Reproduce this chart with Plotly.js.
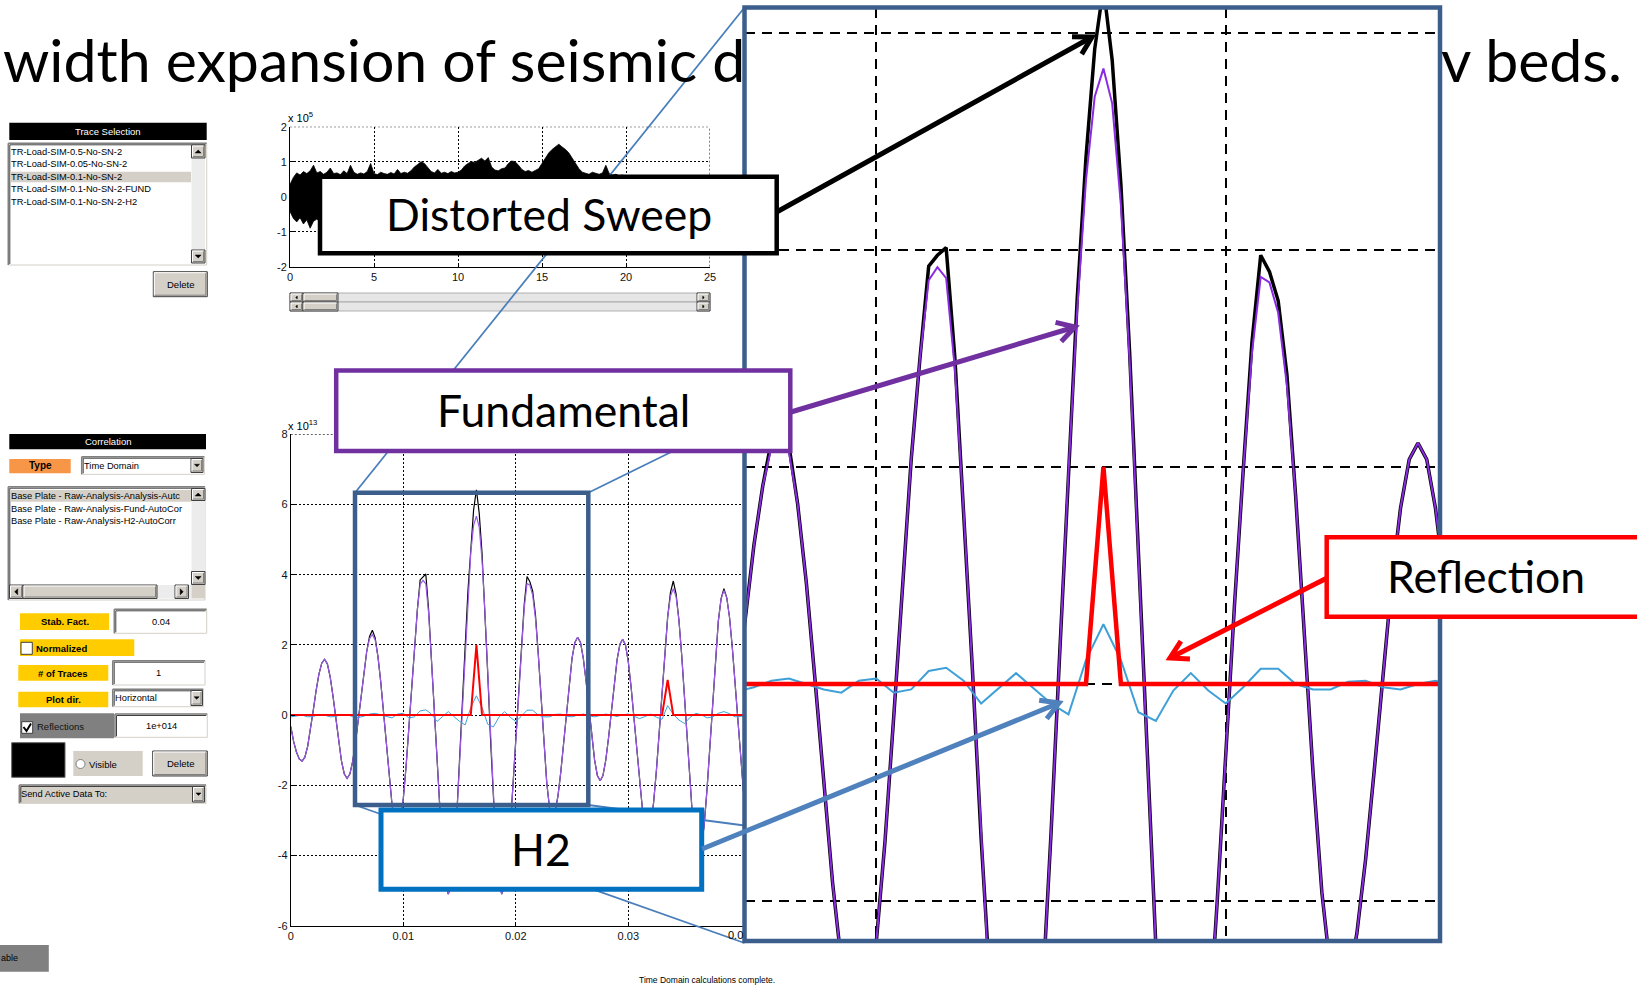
<!DOCTYPE html>
<html><head><meta charset="utf-8">
<script src="https://cdn.plot.ly/plotly-3.0.1.min.js"></script>
<style>html,body{margin:0;padding:0;background:#fff;overflow:hidden}#chart{width:1637px;height:986px}</style>
</head><body><div id="chart"></div>
<script>
// ---------------- DATA ----------------
// Sweep record (x 10^5), envelope of the distorted sweep, sampled every 0.2 s
const SWEEP_STEP = 0.2;
const sweepHi = [
0.35,0.55,0.68,0.62,0.72,0.66,0.74,0.90,0.68,0.72,
0.64,0.70,0.82,0.66,0.68,0.63,0.74,0.66,0.90,0.70,
0.64,0.68,0.65,0.72,0.95,0.66,0.63,0.70,0.66,0.64,
0.69,0.65,0.78,0.66,0.70,0.67,0.74,0.85,0.92,1.00,
0.95,0.84,0.72,0.68,0.78,0.67,0.70,0.66,0.72,0.68,
0.70,0.76,0.88,0.95,1.00,0.98,1.05,1.10,1.02,1.12,
0.85,0.76,0.74,0.80,0.82,0.95,1.02,1.00,0.90,0.78,
0.72,0.75,0.70,0.74,0.80,0.95,1.10,1.25,1.35,1.42,
1.50,1.42,1.35,1.25,1.10,0.95,0.80,0.70,0.68,0.64,
0.70,0.66,0.64,0.68,0.90,0.66,0.62,0.64,0.60,0.62,
0.58,0.60,0.56,0.55,0.52,0.50];
const sweepLo = [
-0.42,-0.62,-0.72,-0.60,-0.78,-0.66,-0.90,-0.70,-0.64,-0.72,
-0.62,-0.68,-0.75,-0.63,-0.66,-0.62,-0.72,-0.65,-0.82,-0.68,
-0.62,-0.66,-0.63,-0.70,-0.85,-0.64,-0.62,-0.68,-0.65,-0.63,
-0.67,-0.64,-0.74,-0.65,-0.68,-0.66,-0.72,-0.82,-0.90,-0.96,
-0.92,-0.80,-0.70,-0.66,-0.74,-0.66,-0.68,-0.65,-0.70,-0.66,
-0.68,-0.74,-0.85,-0.92,-0.98,-0.95,-1.02,-1.06,-0.99,-1.08,
-0.82,-0.74,-0.72,-0.77,-0.80,-0.92,-0.98,-0.96,-0.88,-0.76,
-0.70,-0.73,-0.68,-0.72,-0.78,-0.92,-1.06,-1.20,-1.30,-1.38,
-1.45,-1.38,-1.30,-1.20,-1.06,-0.92,-0.78,-0.68,-0.66,-0.62,
-0.68,-0.64,-0.62,-0.66,-0.84,-0.64,-0.60,-0.62,-0.58,-0.60,
-0.56,-0.58,-0.54,-0.53,-0.50,-0.48];

// Autocorrelations (x 10^13), lag sampled every 0.25 ms
const CORR_STEP = 0.00025;
const fundamental = [
-0.33,-0.75,-1.05,-1.25,-1.31,-1.20,-0.89,-0.42,0.14,0.70,
1.17,1.48,1.59,1.46,1.09,0.54,-0.11,-0.75,-1.30,-1.67,
-1.80,-1.68,-1.32,-0.78,-0.11,0.61,1.28,1.82,2.18,2.30,
2.14,1.66,0.93,0.03,-0.93,-1.83,-2.56,-3.04,-3.20,-2.99,
-2.38,-1.45,-0.30,0.92,2.07,3.00,3.72,3.84,3.74,2.90,
1.59,0.14,-1.42,-2.87,-4.06,-4.83,-5.10,-4.84,-4.07,-2.88,
-1.38,0.29,1.95,3.45,4.64,5.41,5.67,5.35,4.41,2.98,
1.22,-0.65,-2.41,-3.84,-4.78,-5.10,-4.88,-4.25,-3.27,-2.03,
-0.65,0.73,1.97,3.05,3.75,3.70,3.42,2.75,1.73,0.45,
-0.83,-1.92,-2.65,-2.90,-2.75,-2.30,-1.62,-0.79,0.11,0.94,
1.62,2.07,2.22,2.07,1.62,0.96,0.18,-0.61,-1.27,-1.72,
-1.87,-1.72,-1.28,-0.63,0.15,0.92,1.57,2.01,2.16,2.00,
1.52,0.80,-0.10,-1.05,-1.94,-2.66,-3.14,-3.30,-3.09,-2.49,
-1.58,-0.45,0.75,1.88,2.79,3.39,3.60,3.37,2.71,1.70,
0.46,-0.86,-2.10,-3.11,-3.77,-4.00,-3.77,-3.12,-2.11,-0.88,
0.43,1.66,2.67,3.32,3.55,3.35,2.78,1.91,0.85,-0.30,
-1.36,-2.23,-2.80,-3.00];
const distorted = [
-0.33,-0.75,-1.05,-1.25,-1.31,-1.20,-0.89,-0.42,0.14,0.70,
1.17,1.48,1.59,1.46,1.09,0.54,-0.11,-0.75,-1.30,-1.67,
-1.80,-1.68,-1.32,-0.78,-0.11,0.61,1.28,1.82,2.24,2.42,
2.20,1.66,0.93,0.03,-0.93,-1.83,-2.56,-3.04,-3.20,-2.99,
-2.38,-1.45,-0.30,0.92,2.07,3.00,3.85,3.95,4.02,3.00,
1.59,0.14,-1.42,-2.87,-4.06,-4.83,-5.10,-4.84,-4.07,-2.88,
-1.38,0.29,1.95,3.55,4.85,5.85,6.42,5.75,4.60,3.05,
1.22,-0.65,-2.41,-3.84,-4.78,-5.10,-4.88,-4.25,-3.27,-2.03,
-0.65,0.73,1.97,3.15,3.95,3.80,3.53,2.85,1.73,0.45,
-0.83,-1.92,-2.65,-2.90,-2.75,-2.30,-1.62,-0.79,0.11,0.94,
1.62,2.07,2.22,2.07,1.62,0.96,0.18,-0.61,-1.27,-1.72,
-1.87,-1.72,-1.28,-0.63,0.15,0.92,1.57,2.01,2.16,2.00,
1.52,0.80,-0.10,-1.05,-1.94,-2.66,-3.14,-3.30,-3.09,-2.49,
-1.58,-0.45,0.75,1.88,2.79,3.50,3.82,3.45,2.71,1.70,
0.46,-0.86,-2.10,-3.11,-3.77,-4.00,-3.77,-3.12,-2.11,-0.88,
0.43,1.66,2.67,3.32,3.60,3.35,2.78,1.91,0.85,-0.30,
-1.36,-2.23,-2.80,-3.00];
// H2 autocorrelation, every 0.5 ms
const H2_STEP = 0.0005;
const h2 = [
-0.05,-0.03,0.00,-0.05,-0.04,0.02,0.00,-0.05,-0.04,0.02,
0.01,-0.04,-0.07,-0.03,0.03,0.05,0.00,-0.05,-0.08,0.03,
0.05,-0.08,-0.05,0.12,0.15,0.03,-0.18,-0.04,0.10,-0.04,
-0.18,-0.28,0.22,0.55,0.22,-0.26,-0.34,-0.06,0.10,-0.06,
-0.18,-0.03,0.14,0.14,0.00,-0.05,-0.05,0.02,0.03,-0.03,
-0.05,0.00,0.03,-0.02,-0.05,-0.01,0.03,0.00,-0.04,0.01,
0.03,-0.03,-0.10,-0.04,0.03,-0.06,-0.12,0.27,0.02,-0.14,
-0.24,-0.06,0.05,0.01,-0.08,-0.05,0.05,0.10,0.04,-0.05,
-0.04,-0.02];
// Reflection series
const reflT = [0, 0.016, 0.0165, 0.017, 0.033, 0.0335, 0.034, 0.041];
const reflV = [0, 0, 2.0, 0, 0, 1.0, 0, 0];

// Tick labels
const sweepXTicks = [0,5,10,15,20,25];
const sweepXLabels = ['0','5','10','15','20','25'];
const sweepYTicks = [-2,-1,0,1,2];
const sweepYLabels = ['-2','-1','0','1','2'];
const corrXTicks = [0,0.01,0.02,0.03];
const corrXLabels = ['0','0.01','0.02','0.03'];
const corrYTicks = [-6,-4,-2,0,2,4,6,8];
const corrYLabels = ['-6','-4','-2','0','2','4','6','8'];
const zoomXGrid = [0.01,0.02];
const zoomYGrid = [-2,0,2,4,6];

// GUI texts
const traceItems = ['TR-Load-SIM-0.5-No-SN-2','TR-Load-SIM-0.05-No-SN-2','TR-Load-SIM-0.1-No-SN-2','TR-Load-SIM-0.1-No-SN-2-FUND','TR-Load-SIM-0.1-No-SN-2-H2'];
const corrItems = ['Base Plate - Raw-Analysis-Analysis-Autc','Base Plate - Raw-Analysis-Fund-AutoCor','Base Plate - Raw-Analysis-H2-AutoCorr'];

// ---------------- LAYOUT HELPERS ----------------
const W = 1637, H = 986;
const X = v => v / W;
const Y = v => 1 - v / H;
const NONE = 'rgba(0,0,0,0)';
const GUI_FONT = 'Liberation Sans, Arial, sans-serif';
const SLIDE_FONT = 'Lato, Open Sans, sans-serif';
const shapes = [], annos = [];
function rect(x0,y0,x1,y1,fill,color,width){
  shapes.push({type:'rect',xref:'paper',yref:'paper',layer:'above',x0:X(x0),x1:X(x1),y0:Y(y1),y1:Y(y0),
    fillcolor:fill||NONE,line:{color:color||NONE,width:width||0}});
}
function seg(x0,y0,x1,y1,color,width,dash){
  shapes.push({type:'line',xref:'paper',yref:'paper',layer:'above',x0:X(x0),y0:Y(y0),x1:X(x1),y1:Y(y1),
    line:{color:color,width:width,dash:dash||'solid'}});
}
function poly(pts,color,width,fill){
  let d = pts.map((p,i)=>(i?'L':'M')+X(p[0]).toFixed(6)+','+Y(p[1]).toFixed(6)).join(' ');
  if(fill) d += ' Z';
  shapes.push({type:'path',xref:'paper',yref:'paper',layer:'above',path:d,fillcolor:fill||NONE,line:{color:color||NONE,width:width||0}});
}
function circ(cx,cy,r,fill,color,width){
  shapes.push({type:'circle',xref:'paper',yref:'paper',layer:'above',x0:X(cx-r),x1:X(cx+r),y0:Y(cy+r),y1:Y(cy-r),fillcolor:fill,line:{color:color,width:width}});
}
function label(x,y,s,size,o){
  o = o||{};
  annos.push({xref:'paper',yref:'paper',x:X(x),y:Y(y),text:s,showarrow:false,xanchor:o.anchor||'left',yanchor:'middle',
    borderpad:0,borderwidth:0,font:{family:o.family||GUI_FONT,size:size,color:o.color||'#000'}});
}
function raised(x0,y0,x1,y1,fill){
  rect(x0,y0,x1,y1,fill||'#D4D0C8','#404040',1);
  seg(x0+1,y0+1,x1-1.5,y0+1,'#FFFFFF',1);
  seg(x0+1,y0+1,x0+1,y1-1.5,'#FFFFFF',1);
  seg(x0+1.5,y1-1.5,x1-1.5,y1-1.5,'#808080',1);
  seg(x1-1.5,y0+1.5,x1-1.5,y1-1.5,'#808080',1);
}
function sunken(x0,y0,x1,y1,fill){
  rect(x0,y0,x1,y1,fill||'#FFFFFF','#D4D0C8',1);
  seg(x0,y0,x1,y0,'#808080',1.5);
  seg(x0,y0,x0,y1,'#808080',1.5);
  seg(x0+1.5,y0+1.5,x1-1,y0+1.5,'#404040',1);
  seg(x0+1.5,y0+1.5,x0+1.5,y1-1,'#404040',1);
}
function tri(cx,cy,dir,s){
  let p;
  if(dir==='up') p=[[cx-s,cy+s/2],[cx+s,cy+s/2],[cx,cy-s/2]];
  else if(dir==='down') p=[[cx-s,cy-s/2],[cx+s,cy-s/2],[cx,cy+s/2]];
  else if(dir==='left') p=[[cx+s/2,cy-s],[cx+s/2,cy+s],[cx-s/2,cy]];
  else p=[[cx-s/2,cy-s],[cx-s/2,cy+s],[cx+s/2,cy]];
  poly(p,'#000',0.5,'#000');
}
function arrow(x0,y0,x1,y1,color,w){
  seg(x0,y0,x1,y1,color,w);
  const dx=x1-x0, dy=y1-y0, len=Math.hypot(dx,dy), ux=dx/len, uy=dy/len;
  const L=20, a=Math.PI/6, c=Math.cos(a), s=Math.sin(a);
  const p1=[x1-L*(ux*c-uy*s), y1-L*(uy*c+ux*s)];
  const p2=[x1-L*(ux*c+uy*s), y1-L*(uy*c-ux*s)];
  poly([p1,[x1,y1],p2],color,w);
}

// ---------------- GUI (left) ----------------
rect(9.3,122.7,206.7,140,'#000');
label(108,131.4,'Trace Selection',9.5,{anchor:'center',color:'#fff'});
sunken(8.3,143.3,206.7,265);
rect(10,171.7,191,182.3,'#D4D0C8');
[151.7,163.8,176.8,189.3,201.7].forEach((yy,i)=>label(11,yy,traceItems[i],9.3));
rect(191.5,145,205,263,'#ECECEC');
raised(191.5,145,205,158); tri(198.2,151.5,'up',3);
raised(191.5,250,205,263); tri(198.2,256.5,'down',3);
raised(153.3,271.7,207.3,296.7); label(180.3,284.2,'Delete',9.5,{anchor:'center'});

rect(9.3,434,206,449.3,'#000');
label(107.7,441.7,'Correlation',9.5,{anchor:'center',color:'#fff'});
rect(9.3,459,70.7,473.3,'#F79646'); label(40,466,'<b>Type</b>',10,{anchor:'center'});
sunken(81.7,456.7,204.3,474.3); raised(191,458.5,203,472.5); tri(197,465.5,'down',2.5);
label(83.5,465.8,'Time Domain',9.3);
sunken(8.3,486.7,205,600);
rect(10,490,191,501.7,'#D4D0C8');
[496,508.7,521].forEach((yy,i)=>label(10.5,yy,corrItems[i],9.3));
rect(191.5,488.5,205,584.5,'#ECECEC');
raised(191.5,488.5,205,500.5); tri(198.2,494.5,'up',3);
raised(191.5,571.5,205,584.5); tri(198.2,578,'down',3);
rect(9.5,585,191.5,598.5,'#ECECEC');
raised(9.5,585,23,598.5); tri(16.2,591.8,'left',3);
raised(23,585,157,598.5);
raised(175,585,188.5,598.5); tri(181.7,591.8,'right',3);
rect(191.5,585,205,598.5,'#D4D0C8');

rect(20,613.3,109,630,'#FFCC00'); label(64.5,621.7,'<b>Stab. Fact.</b>',9.5,{anchor:'center'});
sunken(114.3,609.3,206.7,633.3); label(160.5,621.5,'0.04',9.3,{anchor:'center'});
rect(20,639.3,134.3,656,'#FFCC00'); rect(21,642.3,32.3,654.3,'#FFFFFF','#404040',1);
label(36,648,'<b>Normalized</b>',9.5);
rect(18.3,665,108.3,680.7,'#FFCC00'); label(63.3,673,'<b># of Traces</b>',9.5,{anchor:'center'});
sunken(112.7,660.7,205,685); label(158.8,673,'1',9.3,{anchor:'center'});
rect(18.3,691.7,108.3,707.3,'#FFCC00'); label(63.3,699.5,'<b>Plot dir.</b>',9.5,{anchor:'center'});
sunken(112.7,689.3,203.3,706.7); raised(191,690.5,202.5,705.5); tri(196.7,698,'down',2.5);
label(114.5,698,'Horizontal',9.3);
rect(20,713.3,114,738.3,'#808080'); rect(21.7,721.7,32.7,733.3,'#FFFFFF','#404040',1);
poly([[23.5,727],[26.5,731],[31,723.5]],'#000',2);
label(36.5,726,'Reflections',9.5,{color:'#111'});
sunken(115,714,207.3,737.3); label(161,725.7,'1e+014',9.3,{anchor:'center'});
rect(11.7,742.7,65,777.3,'#000','#606060',1);
rect(73.3,751,142.7,776,'#D4D0C8'); circ(80.5,764,4.5,'#FFFFFF','#808080',1);
label(89,764,'Visible',9.5);
raised(152.7,751,207.3,776); label(180,763.5,'Delete',9.5,{anchor:'center'});
sunken(19.3,785,206,803.3,'#D4D0C8'); raised(192.5,786.5,204.5,802); tri(198.5,794.2,'down',2.5);
label(21,794,'Send Active Data To:',9.3);
rect(0,945,48.8,971.7,'#808080'); label(1,958,'able',9);
label(707,980,'Time Domain calculations complete.',8.5,{anchor:'center'});

// slider under sweep plot
[[293,302],[302,311]].forEach(r=>{
  rect(290,r[0],710,r[1],'#E6E6E6','#A0A0A0',0.8);
  raised(290,r[0],303,r[1]); raised(303,r[0],338,r[1]); raised(697,r[0],710,r[1]);
  tri(296.5,(r[0]+r[1])/2,'left',1.5); tri(703.5,(r[0]+r[1])/2,'right',1.5);
});

// ---------------- callout graphics ----------------
const LINK = '#4A7EBB', FRAME = '#3B5E8C';
seg(355,492.7,744.5,7.5,LINK,1.8);
seg(588.3,492.7,744.5,416,LINK,1.8);
seg(355,805,744.5,943,LINK,1.8);
seg(588.3,805,744.5,825.5,LINK,1.8);
rect(355,492.7,588.3,805,NONE,FRAME,4.5);
rect(744.5,7.5,1440,941,NONE,FRAME,4.5);
// dotted edges of the matlab axes
shapes.push({type:'line',xref:'x',yref:'y',x0:0,x1:25,y0:2,y1:2,line:{color:'#000',width:1,dash:'2px,2px'}});
shapes.push({type:'line',xref:'x',yref:'y',x0:25,x1:25,y0:-2,y1:2,line:{color:'#000',width:1,dash:'2px,2px'}});
shapes.push({type:'line',xref:'x2',yref:'y2',x0:0,x1:0.0403,y0:8,y1:8,line:{color:'#000',width:1,dash:'2px,2px'}});

// boxes
rect(320,176.7,776.7,253.3,'#FFFFFF','#000000',4.5);
rect(336.2,370.6,790.3,451,'#FFFFFF','#7030A0',4.5);
rect(381,810,701.7,889.3,'#FFFFFF','#0070C0',5);
rect(1326.7,537.3,1660,616.7,'#FFFFFF','#FF0000',4.5);
// arrows
arrow(776.7,212,1092,37,'#000000',5);
arrow(791,412,1075,327,'#7030A0',5);
arrow(1327,578,1170,658,'#FF0000',5);
arrow(702,849,1059,703,'#4F81BD',5);

// texts
label(3,59,'width expansion of seismic d',59,{family:SLIDE_FONT});
label(1441,59,'v beds.',59,{family:SLIDE_FONT});
label(548.5,213,'Distorted Sweep',44.5,{family:SLIDE_FONT,anchor:'center'});
label(563.3,409.5,'Fundamental',44.5,{family:SLIDE_FONT,anchor:'center'});
label(541.3,848,'H2',44.5,{family:SLIDE_FONT,anchor:'center'});
label(1486,575.5,'Reflection',44.5,{family:SLIDE_FONT,anchor:'center'});
label(288,117,'x 10<sup>5</sup>',11);
label(288,425,'x 10<sup>13</sup>',11);
label(743,934.5,'0.0',11,{anchor:'right'});

// ---------------- TRACES ----------------
const sweepT = sweepHi.map((_,i)=>+(i*SWEEP_STEP).toFixed(3));
const corrT = fundamental.map((_,i)=>+(i*CORR_STEP).toFixed(6));
const h2T = h2.map((_,i)=>+(i*H2_STEP).toFixed(6));
const PURPLE = '#8A2BE2', CYAN = '#3FA0D8';
const traces = [
  {x:sweepT,y:sweepLo,xaxis:'x',yaxis:'y',mode:'lines',line:{color:'#000',width:0.8}},
  {x:sweepT,y:sweepHi,xaxis:'x',yaxis:'y',mode:'lines',fill:'tonexty',fillcolor:'#000',line:{color:'#000',width:0.8}},
  {x:corrT,y:distorted,xaxis:'x2',yaxis:'y2',mode:'lines',line:{color:'#000',width:1.2}},
  {x:corrT,y:fundamental,xaxis:'x2',yaxis:'y2',mode:'lines',line:{color:'#9A5CE6',width:1.2}},
  {x:h2T,y:h2,xaxis:'x2',yaxis:'y2',mode:'lines',line:{color:CYAN,width:1}},
  {x:reflT,y:reflV,xaxis:'x2',yaxis:'y2',mode:'lines',line:{color:'#FF0000',width:2}},
  {x:corrT,y:distorted,xaxis:'x3',yaxis:'y3',mode:'lines',line:{color:'#000',width:3.5}},
  {x:corrT,y:fundamental,xaxis:'x3',yaxis:'y3',mode:'lines',line:{color:PURPLE,width:2}},
  {x:h2T,y:h2,xaxis:'x3',yaxis:'y3',mode:'lines',line:{color:CYAN,width:2}},
  {x:reflT,y:reflV,xaxis:'x3',yaxis:'y3',mode:'lines',line:{color:'#FF0000',width:4.5}}
];
traces.forEach(t=>{t.hoverinfo='skip';t.showlegend=false;});

const tickFont = {family:GUI_FONT,size:11,color:'#111'};
const matlabAxis = {showline:true,linecolor:'#000',linewidth:1,ticks:'inside',ticklen:4,tickcolor:'#000',
  tickfont:tickFont,showgrid:true,gridcolor:'#000',griddash:'2px,2px',gridwidth:1,zeroline:false,fixedrange:true,tickmode:'array'};
const gridOnly = {showline:false,ticks:'',showticklabels:false,showgrid:true,gridcolor:'#000',griddash:'10px,7px',
  gridwidth:2.2,zeroline:false,fixedrange:true,tickmode:'array'};

const layout = {
  width:W,height:H,margin:{l:0,r:0,t:0,b:0},paper_bgcolor:'#FFFFFF',plot_bgcolor:'rgba(0,0,0,0)',showlegend:false,
  xaxis:Object.assign({},matlabAxis,{domain:[X(290),X(710)],range:[0,25],anchor:'y',tickvals:sweepXTicks,ticktext:sweepXLabels}),
  yaxis:Object.assign({},matlabAxis,{domain:[Y(266.7),Y(126.7)],range:[-2,2],anchor:'x',tickvals:sweepYTicks,ticktext:sweepYLabels}),
  xaxis2:Object.assign({},matlabAxis,{domain:[X(290.8),X(744.5)],range:[0,0.04033],anchor:'y2',tickvals:corrXTicks,ticktext:corrXLabels}),
  yaxis2:Object.assign({},matlabAxis,{domain:[Y(925.7),Y(434.3)],range:[-6,8],anchor:'x2',tickvals:corrYTicks,ticktext:corrYLabels}),
  xaxis3:Object.assign({},gridOnly,{domain:[X(744.5),X(1440)],range:[0.00623,0.02613],anchor:'y3',tickvals:zoomXGrid}),
  yaxis3:Object.assign({},gridOnly,{domain:[Y(941),Y(7.5)],range:[-2.368,6.233],anchor:'x3',tickvals:zoomYGrid}),
  shapes:shapes,annotations:annos
};
Plotly.newPlot('chart',traces,layout,{staticPlot:true,displayModeBar:false});
</script></body></html>
